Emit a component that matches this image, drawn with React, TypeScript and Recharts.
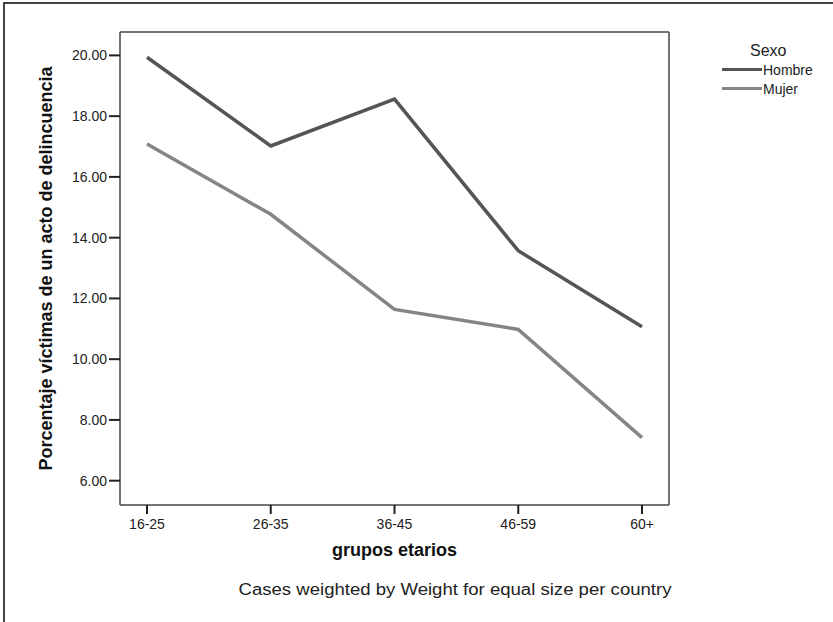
import React from 'react';
import { LineChart, Line, XAxis, YAxis, CartesianGrid } from 'recharts';

// grupos etarios
const categories = ['16-25', '26-35', '36-45', '46-59', '60+'];
// porcentaje víctimas por sexo
const hombre = [19.94, 17.02, 18.56, 13.57, 11.07];
const mujer = [17.08, 14.77, 11.64, 10.98, 7.42];
const yTicks = [6, 8, 10, 12, 14, 16, 18, 20];

const data = categories.map((grupo, i) => ({ grupo, Hombre: hombre[i], Mujer: mujer[i] }));

const FONT = '"Liberation Sans", Arial, sans-serif';
const HOMBRE_COLOR = '#555555';
const MUJER_COLOR = '#858585';

// leyenda a la derecha, estilo SPSS
const SexoLegend = () => (
  <div style={{ position: 'absolute', left: 722, top: 42, fontFamily: FONT, color: '#222', width: 110 }}>
    <div style={{ fontSize: 16, marginLeft: 28, lineHeight: '18px' }}>Sexo</div>
    {[
      { name: 'Hombre', color: HOMBRE_COLOR },
      { name: 'Mujer', color: MUJER_COLOR },
    ].map((s) => (
      <div key={s.name} style={{ display: 'flex', alignItems: 'center', height: 19, fontSize: 14 }}>
        <span style={{ display: 'inline-block', width: 40, height: 3, background: s.color, marginRight: 1 }} />
        <span>{s.name}</span>
      </div>
    ))}
  </div>
);

const App = () => {
  return (
    <div
      style={{
        position: 'absolute',
        left: 0,
        top: 0,
        width: 833,
        height: 622,
        background: '#fff',
        fontFamily: FONT,
      }}
    >
      {/* marco exterior */}
      <div
        style={{
          position: 'absolute',
          left: 3,
          top: 2,
          right: 0,
          bottom: 0,
          borderLeft: '2px solid #444',
          borderTop: '2px solid #444',
        }}
      />
      <div style={{ position: 'absolute', left: 0, top: 0 }}>
        <LineChart
          width={833}
          height={622}
          data={data}
          margin={{ top: 32, right: 164, bottom: 0, left: 0 }}
        >
          {/* caja del área de trazado */}
          <CartesianGrid
            stroke="#444"
            strokeWidth={1.5}
            horizontalCoordinatesGenerator={({ offset }: any) => [offset.top]}
            verticalCoordinatesGenerator={({ offset }: any) => [offset.left + offset.width]}
          />
          <XAxis
            dataKey="grupo"
            padding={{ left: 27, right: 27 }}
            stroke="#444"
            strokeWidth={1.5}
            tickSize={9}
            tickLine={{ stroke: '#222', strokeWidth: 2 }}
            tick={{ fill: '#222', fontSize: 14, fontFamily: FONT, dy: 3 }}
            height={117}
            label={{
              value: 'grupos etarios',
              position: 'insideTop',
              offset: 38,
              fill: '#111',
              fontSize: 18,
              fontWeight: 'bold',
              fontFamily: FONT,
            }}
          />
          <YAxis
            domain={[5.2, 20.77]}
            ticks={yTicks}
            width={120}
            stroke="#444"
            strokeWidth={1.5}
            tickSize={11}
            tickLine={{ stroke: '#222', strokeWidth: 2 }}
            tickFormatter={(v: number) => v.toFixed(2)}
            tick={{ fill: '#222', fontSize: 14, fontFamily: FONT }}
            label={{
              value: 'Porcentaje víctimas de un acto de delincuencia',
              angle: -90,
              position: 'insideLeft',
              offset: 46,
              style: { textAnchor: 'middle' },
              fill: '#111',
              fontSize: 18,
              fontWeight: 'bold',
              fontFamily: FONT,
            }}
          />
          <Line
            type="linear"
            dataKey="Hombre"
            stroke={HOMBRE_COLOR}
            strokeWidth={3.5}
            dot={false}
            activeDot={false}
            isAnimationActive={false}
          />
          <Line
            type="linear"
            dataKey="Mujer"
            stroke={MUJER_COLOR}
            strokeWidth={3.5}
            dot={false}
            activeDot={false}
            isAnimationActive={false}
          />
        </LineChart>
      </div>
      <SexoLegend />
      <div
        style={{
          position: 'absolute',
          left: 0,
          width: 910,
          top: 581,
          textAlign: 'center',
          fontSize: 16,
          color: '#222',
          fontFamily: FONT,
          transform: 'scaleX(1.16)',
          transformOrigin: '455px 0',
        }}
      >
        Cases weighted by Weight for equal size per country
      </div>
    </div>
  );
};

export default App;
